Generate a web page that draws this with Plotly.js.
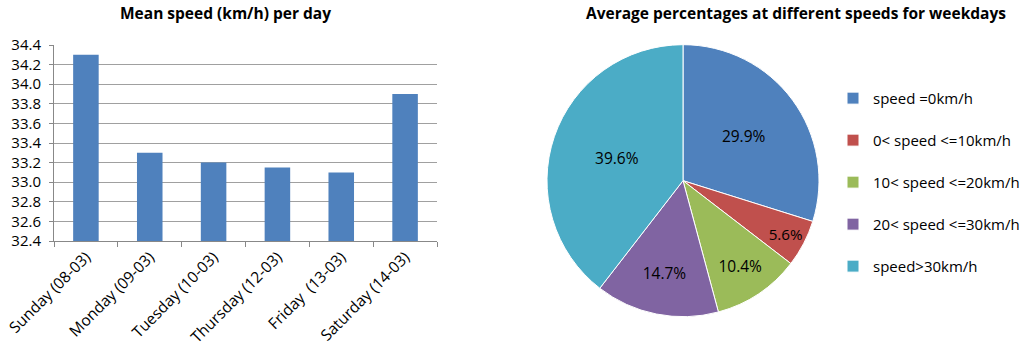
<!DOCTYPE html>
<html><head><meta charset="utf-8">
<script src="https://cdn.plot.ly/plotly-3.0.1.min.js"></script>
<style>html,body{margin:0;padding:0;background:#fff}#c{width:1024px;height:356px}</style>
</head><body><div id="c"></div>
<script>
const days = ["Sunday (08-03)","Monday (09-03)","Tuesday (10-03)","Thursday (12-03)","Friday  (13-03)","Saturday (14-03)"];
const meanSpeed = [34.3, 33.3, 33.2, 33.15, 33.1, 33.9];
const yTicks = [32.4,32.6,32.8,33.0,33.2,33.4,33.6,33.8,34.0,34.2,34.4];

const speedClasses = ["speed =0km/h","0< speed <=10km/h","10< speed <=20km/h","20< speed <=30km/h","speed>30km/h"];
const shares = [29.9, 5.6, 10.4, 14.7, 39.6];
const sliceColors = ["#4F81BD","#C0504D","#9BBB59","#8064A2","#4BACC6"];

const F = "Open Sans, Noto Sans, sans-serif";

const bar = {
  type: "bar", x: days, y: meanSpeed, marker: {color: "#4F81BD"},
  xaxis: "x", yaxis: "y", showlegend: false, hoverinfo: "x+y"
};
const pie = {
  type: "pie", labels: speedClasses.map(s => s + "<br> "), values: shares,
  text: shares.map(v => v.toFixed(1) + "%"), textinfo: "text",
  textposition: "inside", insidetextorientation: "horizontal",
  textfont: {family: F, size: 15.5, color: "#000"},
  marker: {colors: sliceColors, line: {color: "#fff", width: 1}},
  sort: false, direction: "clockwise", rotation: 0,
  domain: {x: [547/1024, 819/1024], y: [0.105, 0.88]},
  hoverinfo: "label+text"
};

const layout = {
  width: 1024, height: 356, margin: {l: 0, r: 0, t: 0, b: 0, autoexpand: false},
  paper_bgcolor: "#fff", plot_bgcolor: "#fff",
  font: {family: F, size: 15, color: "#000"},
  bargap: 0.6,
  xaxis: {domain: [54/1024, 437/1024], anchor: "y", automargin: false,
    tickangle: -45, ticks: "outside", tickson: "boundaries", ticklen: 5,
    tickcolor: "#888", showline: true, linecolor: "#888", linewidth: 1,
    showgrid: false, tickfont: {family: F, size: 15.5, color: "#000"}},
  yaxis: {domain: [(356-241)/356, (356-45)/356], anchor: "x", automargin: false,
    range: [32.4, 34.4], tickvals: yTicks, ticktext: yTicks.map(v => v.toFixed(1)),
    ticks: "outside", ticklen: 4, tickcolor: "#888", ticklabelstandoff: 5,
    showline: true, linecolor: "#888", showgrid: true, gridcolor: "#a0a0a0", zeroline: false,
    tickfont: {family: F, size: 15, color: "#000"}},
  legend: {x: 833/1024, y: 0.77, xanchor: "left", yanchor: "top", valign: "top",
    font: {family: F, size: 15, color: "#000"}, itemwidth: 30, traceorder: "normal"},
  annotations: [
    {text: "<b>Mean speed (km/h) per day</b>", x: 225/1024, y: 1 - 13/356, xref: "paper", yref: "paper",
     xanchor: "center", yanchor: "middle", showarrow: false, font: {family: F, size: 15.5, color: "#000"}},
    {text: "<b>Average percentages at different speeds for weekdays</b>", x: 796/1024, y: 1 - 13/356, xref: "paper", yref: "paper",
     xanchor: "center", yanchor: "middle", showarrow: false, font: {family: F, size: 15.5, color: "#000"}}
  ]
};
Plotly.newPlot("c", [bar, pie], layout, {staticPlot: true});
</script></body></html>
